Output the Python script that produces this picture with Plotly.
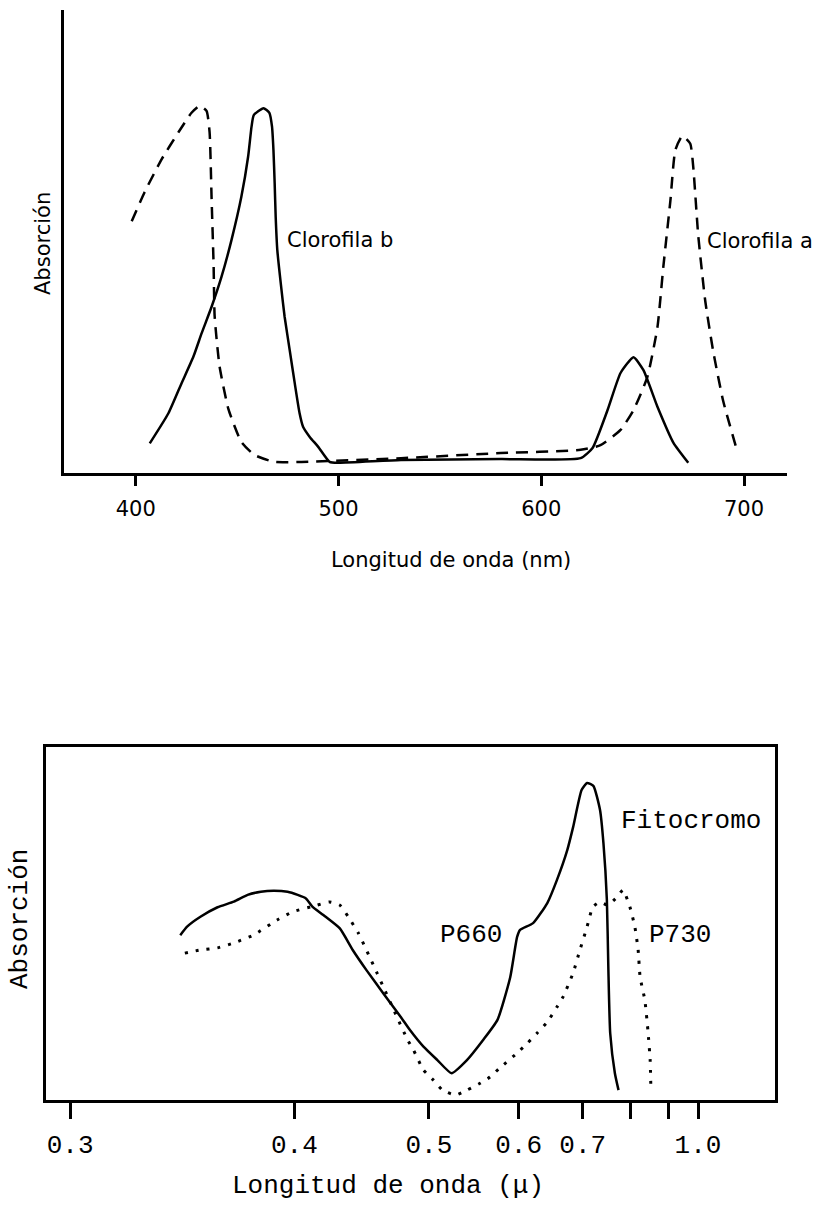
import plotly.graph_objects as go

# ---------------- Top chart: chlorophyll a / b ----------------
chl_b_nm = [406.9, 416.1, 422.6, 428.4, 432.5, 437.4, 442.3, 447.2, 452.1, 455.4,
            457.1, 458.2, 463.0, 465.9, 467.2, 467.9, 468.5, 469.0, 469.8, 471.5,
            473.4, 475.9, 478.4, 480.8, 482.5, 485.8, 489.9, 495.6, 499.9, 530.8,
            580.0, 619.4, 625.3, 632.7, 639.1, 645.5, 650.4, 657.3, 665.2, 672.5]
chl_b_abs = [6.4, 12.9, 19.4, 25.1, 30.2, 35.9, 42.4, 50.3, 59.7, 68.3,
             74.8, 77.3, 78.8, 77.8, 74.8, 69.8, 62.6, 55.4, 48.2, 41.0,
             33.8, 26.6, 19.4, 12.9, 10.0, 7.8, 5.7, 2.4, 2.2, 2.8,
             3.0, 3.2, 5.4, 13.6, 21.6, 25.0, 22.2, 14.3, 6.5, 2.2]

chl_a_nm = [398.0, 404.4, 412.8, 421.2, 427.5, 431.5, 434.9, 436.4, 437.4, 438.4,
            438.9, 441.3, 445.7, 452.1, 458.5, 468.4, 481.7, 530.8, 580.0, 619.4,
            629.2, 639.1, 645.5, 652.3, 657.3, 660.2, 663.7, 666.1, 669.6, 673.5,
            675.0, 677.4, 680.9, 684.8, 689.7, 696.6]
chl_a_abs = [54.4, 60.7, 67.8, 73.7, 77.8, 79.3, 78.2, 73.7, 59.2, 44.7,
             33.9, 23.1, 13.8, 6.7, 3.9, 2.4, 2.4, 3.2, 4.3, 5.0,
             6.0, 9.3, 13.6, 20.7, 31.5, 44.5, 58.9, 69.7, 72.8, 71.1,
             65.9, 51.4, 37.1, 26.3, 15.6, 4.8]

top_ticks = [400, 500, 600, 700]

# ---------------- Bottom chart: phytochrome ----------------
p660_um = [0.342, 0.345, 0.351, 0.359, 0.367, 0.374, 0.381, 0.388, 0.396, 0.402,
           0.407, 0.411, 0.418, 0.429, 0.438, 0.448, 0.461, 0.475, 0.483, 0.495,
           0.508, 0.522, 0.538, 0.556, 0.573, 0.589, 0.598, 0.602, 0.620, 0.641,
           0.656, 0.673, 0.683, 0.698, 0.708, 0.720, 0.733, 0.740, 0.747, 0.750,
           0.754, 0.764, 0.772]
p660_abs = [46.7, 49.1, 51.9, 54.6, 56.2, 58.1, 59.0, 59.3, 59.0, 58.1,
            57.1, 54.8, 52.4, 48.6, 42.5, 36.8, 30.2, 23.6, 19.8, 15.1,
            11.3, 7.6, 11.3, 17.0, 22.7, 34.8, 46.2, 48.2, 50.1, 55.8,
            62.3, 70.8, 77.3, 87.8, 89.8, 89.0, 82.2, 72.7, 56.7, 37.8,
            18.9, 7.6, 2.8]

p730_um = [0.344, 0.351, 0.359, 0.367, 0.377, 0.390, 0.399, 0.414, 0.422, 0.429,
           0.435, 0.442, 0.448, 0.456, 0.461, 0.472, 0.481, 0.486, 0.495, 0.504,
           0.513, 0.526, 0.538, 0.553, 0.564, 0.576, 0.598, 0.612, 0.626, 0.641,
           0.656, 0.666, 0.683, 0.695, 0.708, 0.719, 0.733, 0.749, 0.769, 0.782,
           0.798, 0.810, 0.818, 0.823, 0.835, 0.843, 0.849, 0.851]
p730_abs = [41.6, 42.5, 43.1, 44.5, 46.7, 51.0, 53.3, 55.2, 56.1, 55.2,
            51.8, 47.3, 42.5, 36.0, 32.0, 23.5, 17.0, 14.2, 8.5, 5.7,
            2.8, 1.4, 2.8, 4.8, 6.5, 9.1, 13.3, 16.1, 19.0, 22.1,
            26.3, 29.2, 36.0, 42.5, 49.0, 54.7, 56.1, 55.2, 57.5, 59.5,
            54.7, 49.0, 42.5, 34.8, 28.3, 19.8, 11.3, 2.8]

bottom_tick_um = [0.3, 0.4, 0.5, 0.6, 0.7, 0.8, 0.9, 1.0]
bottom_tick_text = ["0.3", "0.4", "0.5", "0.6", "0.7", "", "", "1.0"]


# reciprocal (wavenumber-like) axis: coordinate = -1/lambda
def recip(vals):
    return [-1.0 / v for v in vals]


W, H = 830, 1208


def px(x):
    return x / W


def py(y):
    return 1 - y / H


SANS = "DejaVu Sans"
MONO = "Liberation Mono"

fig = go.Figure()

fig.add_trace(go.Scatter(x=chl_b_nm, y=chl_b_abs, mode="lines",
                         line=dict(color="black", width=2.5, shape="spline", smoothing=0.5),
                         xaxis="x", yaxis="y", showlegend=False))
fig.add_trace(go.Scatter(x=chl_a_nm, y=chl_a_abs, mode="lines",
                         line=dict(color="black", width=2.5, dash="12px,8px",
                                   shape="spline", smoothing=0.5),
                         xaxis="x", yaxis="y", showlegend=False))

fig.add_trace(go.Scatter(x=recip(p660_um), y=p660_abs, mode="lines",
                         line=dict(color="black", width=2.5, shape="spline", smoothing=0.5),
                         xaxis="x2", yaxis="y2", showlegend=False))
fig.add_trace(go.Scatter(x=recip(p730_um), y=p730_abs, mode="lines",
                         line=dict(color="black", width=3, dash="3px,8px",
                                   shape="spline", smoothing=0.5),
                         xaxis="x2", yaxis="y2", showlegend=False))

fig.update_layout(
    width=W, height=H, autosize=False,
    margin=dict(l=0, r=0, t=0, b=0),
    paper_bgcolor="white", plot_bgcolor="white",
    showlegend=False,
    xaxis=dict(domain=[px(64), px(787)], anchor="y", range=[364.6, 721.2],
               showgrid=False, zeroline=False, showline=True, linecolor="black", linewidth=3,
               ticks="outside", ticklen=10, tickwidth=2.5, tickcolor="black",
               tickvals=top_ticks, ticktext=[str(t) for t in top_ticks],
               tickfont=dict(family=SANS, size=21, color="black"),
               ticklabelstandoff=5),
    yaxis=dict(domain=[py(473), py(10)], anchor="x", range=[0, 100],
               showgrid=False, zeroline=False, showline=True, linecolor="black", linewidth=3,
               showticklabels=False, ticks=""),
    xaxis2=dict(domain=[px(46), px(775)], anchor="y2",
                range=[-3.4229, -0.7139],
                showgrid=False, zeroline=False, showline=True, mirror=True,
                linecolor="black", linewidth=2.5,
                ticks="outside", ticklen=16, tickwidth=2.5, tickcolor="black",
                tickvals=recip(bottom_tick_um), ticktext=bottom_tick_text,
                tickfont=dict(family=MONO, size=26, color="black"),
                ticklabelstandoff=3),
    yaxis2=dict(domain=[py(1100), py(747)], anchor="x2", range=[0, 100],
                showgrid=False, zeroline=False, showline=True, mirror=True,
                linecolor="black", linewidth=2.5,
                showticklabels=False, ticks=""),
)

annots = [
    dict(text="Absorción", x=px(43), y=py(244), textangle=-90,
         font=dict(family=SANS, size=21, color="black")),
    dict(text="Longitud de onda (nm)", x=px(451), y=py(560),
         font=dict(family=SANS, size=21, color="black")),
    dict(text="Clorofila b", x=px(285), y=py(240), xanchor="left",
         font=dict(family=SANS, size=21, color="black")),
    dict(text="Clorofila a", x=px(705), y=py(241), xanchor="left",
         font=dict(family=SANS, size=21, color="black")),
    dict(text="Absorción", x=px(20), y=py(919), textangle=-90,
         font=dict(family=MONO, size=26, color="black")),
    dict(text="Longitud de onda (μ)", x=px(388), y=py(1186),
         font=dict(family=MONO, size=26, color="black")),
    dict(text="Fitocromo", x=px(691), y=py(821),
         font=dict(family=MONO, size=26, color="black")),
    dict(text="P660", x=px(471), y=py(935),
         font=dict(family=MONO, size=26, color="black")),
    dict(text="P730", x=px(680), y=py(935),
         font=dict(family=MONO, size=26, color="black")),
]
for a in annots:
    a.update(xref="paper", yref="paper", showarrow=False)
    a.setdefault("xanchor", "center")
    a.setdefault("yanchor", "middle")
fig.update_layout(annotations=annots)

fig.write_html("out.html")
